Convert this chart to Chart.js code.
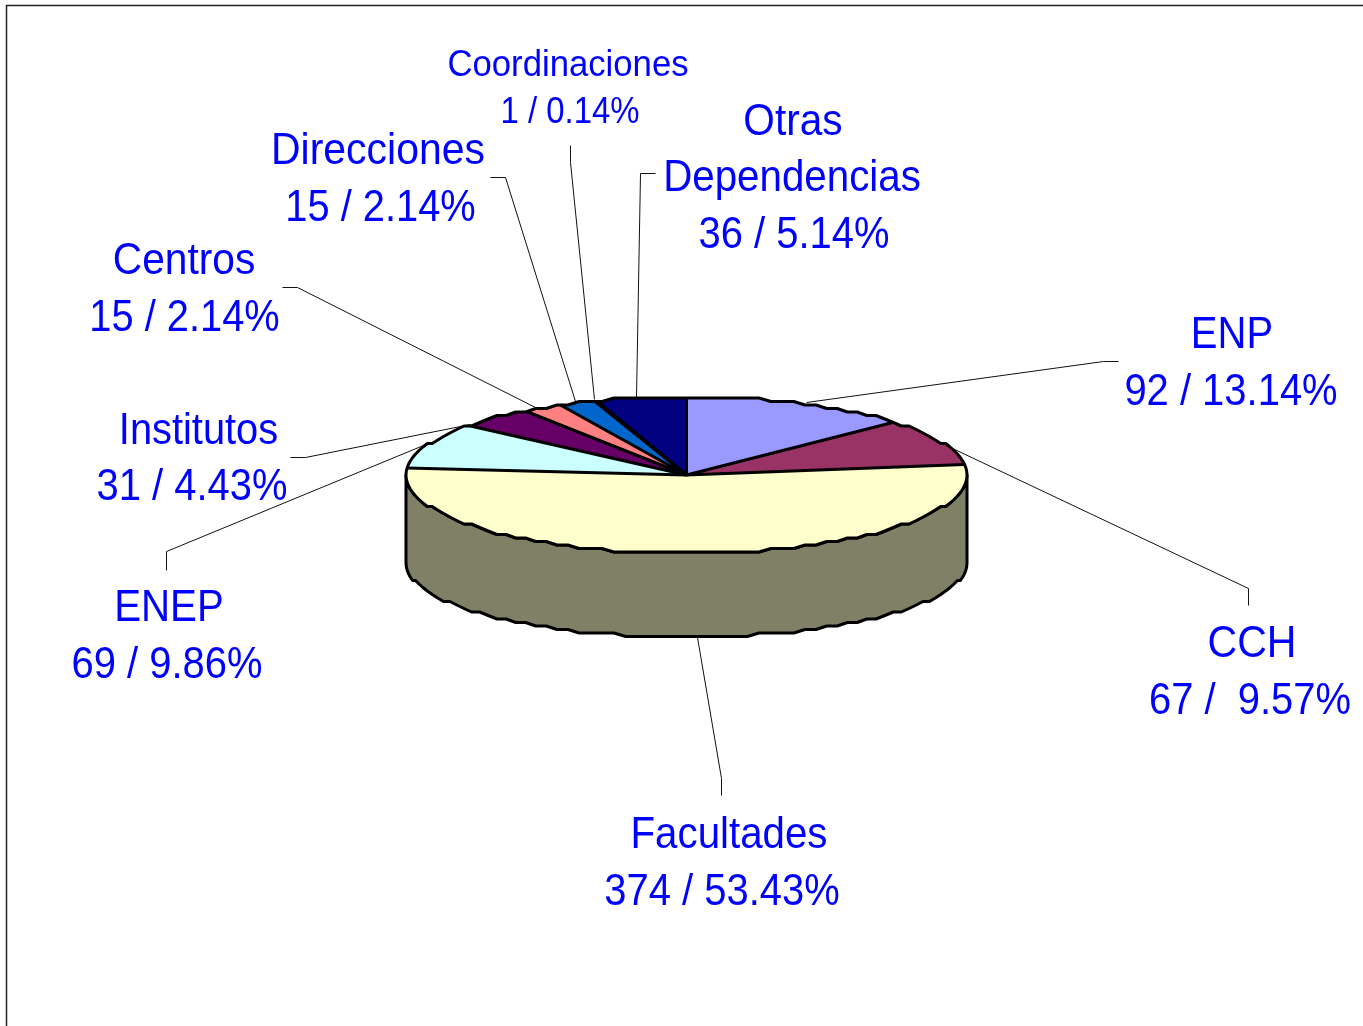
<!DOCTYPE html>
<html><head><meta charset="utf-8">
<style>html,body{margin:0;padding:0;background:#fff}canvas{display:block}</style>
<script src="https://cdn.jsdelivr.net/npm/chart.js@4"></script>
</head><body><canvas id="c" width="1363" height="1026"></canvas>
<script>
const categories = ['ENP','CCH','Facultades','ENEP','Institutos','Centros','Direcciones','Coordinaciones','Otras Dependencias'];
const counts = [92,67,374,69,31,15,15,1,36];
const sliceColors = ['#9999FF','#993366','#FFFFCC','#CCFFFF','#660066','#FF8080','#0066CC','#CCCCFF','#000080'];

const PIE = {cx:686.5, cy:475, rx:280.5, ry:78.5, depth:88, bottomRy:74, overscan:8};
const SIDE = '#808066';
const TEXT = '#0000FF';
// one entry per category: text lines (text, centre x, baseline y, horizontal squeeze) and leader polyline
const labelLayout = [
 {lines:[['ENP',1232,348,.91],['92 / 13.14%',1231,405,.908]], leader:[[806,402],[1103,361],[1118,361]]},
 {lines:[['CCH',1252,657,.935],['67 /  9.57%',1250,714,.908]], leader:[[950,447],[1248,588],[1248,605]]},
 {lines:[['Facultades',729,848,.915],['374 / 53.43%',722,905,.908]], leader:[[697,637],[721,778],[721,795]]},
 {lines:[['ENEP',169,621,.915],['69 / 9.86%',167,678,.908]], leader:[[423,445],[166,551],[166,570]]},
 {lines:[['Institutos',198.5,444,.905],['31 / 4.43%',192,500,.908]], leader:[[470,424],[305,457],[290,457]]},
 {lines:[['Centros',184,274,.925],['15 / 2.14%',184.5,331,.905]], leader:[[535,407],[297,287],[282,287]]},
 {lines:[['Direcciones',378,164,.931],['15 / 2.14%',380.5,221,.905]], leader:[[575,401],[505,177],[490,177]]},
 {lines:[['Coordinaciones',568,76,.964],['1 / 0.14%',570,123,.914]], leader:[[594,399],[570,162],[570,145]], size:36},
 {lines:[['Otras',793,135,.923],['Dependencias',792,191,.916],['36 / 5.14%',794,248,.908]], leader:[[636,397],[640,173],[655,173]]}
];

// Rim outline quantised the way the reference's coarse rendering is
function rimPoint(a, dy, ry){
  const x = PIE.cx + PIE.rx*Math.cos(a), y = (ry||PIE.ry)*Math.sin(a);
  return [x, PIE.cy + Math.round(y/3.5)*3.5 + (dy||0)];
}
function rimPath(ctx, a0, a1, dy, move, ry){
  const step = Math.PI/72, n = Math.max(1, Math.round(Math.abs(a1-a0)/step));
  for(let i=0;i<=n;i++){
    const p = rimPoint(a0+(a1-a0)*i/n, dy, ry);
    if(i===0 && move) ctx.moveTo(p[0],p[1]); else ctx.lineTo(p[0],p[1]);
  }
}
const pie3d = {
  id:'pie3d',
  beforeDatasetsDraw(chart){
    const ctx = chart.ctx, arc = chart.getDatasetMeta(0).data[0];
    ctx.save();
    // extruded wall
    ctx.beginPath();
    rimPath(ctx, 0, Math.PI, 0, true);
    rimPath(ctx, Math.PI, 0, PIE.depth, false, PIE.bottomRy);
    ctx.closePath();
    ctx.fillStyle = SIDE; ctx.fill();
    ctx.lineJoin='round'; ctx.strokeStyle='#000'; ctx.lineWidth=3; ctx.stroke();
    // top face: library arcs, flattened and clipped to the rim
    ctx.beginPath();
    rimPath(ctx, 0, Math.PI*2, 0, true);
    ctx.closePath();
    ctx.clip();
    ctx.translate(PIE.cx, PIE.cy);
    ctx.scale(1, PIE.ry/PIE.rx);
    ctx.translate(-arc.x, -arc.y);
  },
  afterDatasetsDraw(chart){
    const ctx = chart.ctx, arcs = chart.getDatasetMeta(0).data;
    ctx.restore();
    ctx.save();
    ctx.strokeStyle='#000'; ctx.lineWidth=3; ctx.lineJoin='round';
    arcs.forEach(a=>{
      const p = rimPoint(a.startAngle);
      ctx.beginPath(); ctx.moveTo(PIE.cx,PIE.cy); ctx.lineTo(p[0],p[1]); ctx.stroke();
    });
    ctx.beginPath();
    rimPath(ctx, 0, Math.PI*2, 0, true);
    ctx.closePath(); ctx.stroke();
    ctx.restore();
  },
  afterDraw(chart){
    const ctx = chart.ctx;
    ctx.save();
    // page frame
    ctx.strokeStyle='#222'; ctx.lineWidth=1.5;
    ctx.beginPath(); ctx.moveTo(6.5,1026); ctx.lineTo(6.5,5.5); ctx.lineTo(1363,5.5); ctx.stroke();
    // leaders
    ctx.strokeStyle='#111'; ctx.lineWidth=1;
    labelLayout.forEach(l=>{
      ctx.beginPath();
      l.leader.forEach((p,i)=> i? ctx.lineTo(p[0]+.5,p[1]+.5) : ctx.moveTo(p[0]+.5,p[1]+.5));
      ctx.stroke();
    });
    // labels
    ctx.fillStyle=TEXT; ctx.textAlign='center'; ctx.textBaseline='alphabetic';
    labelLayout.forEach(l=>{
      ctx.font=(l.size||44)+'px "Liberation Sans", Arial, sans-serif';
      l.lines.forEach(t=>{
        ctx.save(); ctx.translate(t[1],t[2]); ctx.scale(t[3],1); ctx.fillText(t[0],0,0); ctx.restore();
      });
    });
    ctx.restore();
  }
};
new Chart(document.getElementById('c'),{
  type:'pie',
  data:{labels:categories,datasets:[{data:counts,backgroundColor:sliceColors,borderWidth:0}]},
  options:{responsive:false,animation:false,radius:PIE.rx+PIE.overscan,rotation:0,
    layout:{padding:0},
    events:[],
    plugins:{legend:{display:false},tooltip:{enabled:false},title:{display:false}}},
  plugins:[pie3d]
});
</script></body></html>
